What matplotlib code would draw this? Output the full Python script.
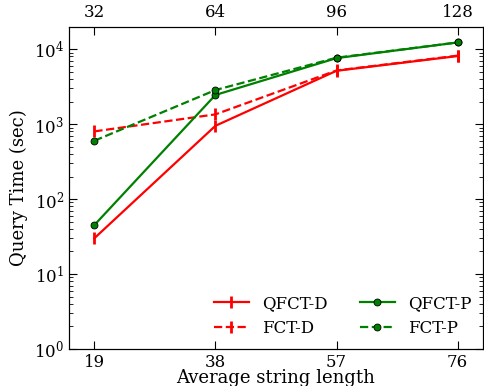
import matplotlib
matplotlib.use("Agg")
import matplotlib.pyplot as plt

plt.rcParams['font.family'] = ['DejaVu Serif']
plt.rcParams['mathtext.fontset'] = 'dejavuserif'

x = [19, 38, 57, 76]
top_labels = ['32', '64', '96', '128']

qfct_d = [30, 950, 5150, 8100]
fct_d = [800, 1350, 5200, 8200]
qfct_p = [45, 2450, 7600, 12300]
fct_p = [600, 2850, 7700, 12300]

fig = plt.figure(figsize=(4.85, 3.86), dpi=100)
ax = fig.add_axes([0.142, 0.096, 0.854, 0.835])

ax.plot(x, qfct_d, color='red', ls='-', lw=1.6, marker='|', ms=9, mew=2, label='QFCT-D')
ax.plot(x, fct_d, color='red', ls='--', lw=1.6, marker='|', ms=9, mew=2, label='FCT-D')
ax.plot(x, qfct_p, color='green', ls='-', lw=1.6, marker='o', ms=5, mec='black', mew=0.6, label='QFCT-P')
ax.plot(x, fct_p, color='green', ls='--', lw=1.6, marker='o', ms=5, mec='black', mew=0.6, label='FCT-P')

ax.set_yscale('log')
ax.set_ylim(1, 2e4)
ax.set_xlim(15, 80)
ax.set_xticks(x)
ax.set_xticklabels([str(v) for v in x])
ax.tick_params(which='both', direction='in', right=True, labelsize=12)
ax.tick_params(which='major', length=6)
ax.tick_params(which='minor', length=3)
ax.set_xlabel('Average string length', fontsize=13, labelpad=-1)
ax.set_ylabel('Query Time (sec)', fontsize=13)

ax2 = ax.twiny()
ax2.set_xlim(ax.get_xlim())
ax2.set_xticks(x)
ax2.set_xticklabels(top_labels)
ax2.tick_params(direction='in', labelsize=12, length=6, pad=4)

ax.legend(loc='lower right', ncol=2, frameon=False, numpoints=1, fontsize=12,
          handlelength=2.1, columnspacing=1.9, borderaxespad=0.3)

fig.savefig('out.png', dpi=100)
